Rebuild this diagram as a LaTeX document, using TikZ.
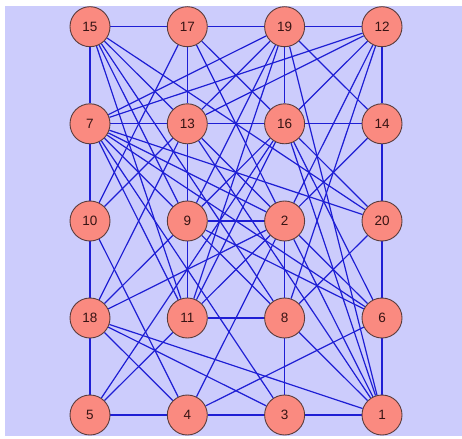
\documentclass[tikz,border=0pt]{standalone}
\usepackage{fontspec}
\setmainfont{Liberation Sans}
\definecolor{bgpanel}{RGB}{204,204,252}
\definecolor{edgeblue}{RGB}{30,30,212}
\definecolor{nodefill}{RGB}{250,138,128}
\definecolor{nodeline}{RGB}{90,60,60}
\definecolor{labeltext}{RGB}{55,20,20}
\pgfdeclarelayer{backdrop}
\pgfdeclarelayer{edges}
\pgfsetlayers{backdrop,edges,main}
\begin{document}
\begin{tikzpicture}[x=1pt,y=-1pt,
  vertex/.style={circle,draw=nodeline,fill=nodefill,line width=0.9pt,
    minimum size=40pt,inner sep=0pt,text=labeltext,font=\fontsize{13.5}{15}\selectfont},
  link/.style={draw=edgeblue,line width=1.2pt}]
\useasboundingbox (0,0) rectangle (462,438);
\begin{pgfonlayer}{backdrop}
\fill[white] (0,0) rectangle (462,438);
\fill[bgpanel] (5,6) rectangle (462,436);
\end{pgfonlayer}
% grid of vertices: columns and rows
\def\cA{90}\def\cB{187.3}\def\cC{284.6}\def\cD{382}
\def\rA{26.7}\def\rB{123.8}\def\rC{221}\def\rD{318}\def\rE{415}
\node[vertex] (v15) at (\cA,\rA) {15};
\node[vertex] (v17) at (\cB,\rA) {17};
\node[vertex] (v19) at (\cC,\rA) {19};
\node[vertex] (v12) at (\cD,\rA) {12};
\node[vertex] (v7)  at (\cA,\rB) {7};
\node[vertex] (v13) at (\cB,\rB) {13};
\node[vertex] (v16) at (\cC,\rB) {16};
\node[vertex] (v14) at (\cD,\rB) {14};
\node[vertex] (v10) at (\cA,\rC) {10};
\node[vertex] (v9)  at (\cB,\rC) {9};
\node[vertex] (v2)  at (\cC,\rC) {2};
\node[vertex] (v20) at (\cD,\rC) {20};
\node[vertex] (v18) at (\cA,\rD) {18};
\node[vertex] (v11) at (\cB,\rD) {11};
\node[vertex] (v8)  at (\cC,\rD) {8};
\node[vertex] (v6)  at (\cD,\rD) {6};
\node[vertex] (v5)  at (\cA,\rE) {5};
\node[vertex] (v4)  at (\cB,\rE) {4};
\node[vertex] (v3)  at (\cC,\rE) {3};
\node[vertex] (v1)  at (\cD,\rE) {1};
% edges, kept beneath the vertices
\begin{pgfonlayer}{edges}
\foreach \a/\b in {15/17,17/19,19/12,15/7,7/10,10/18,18/5,5/4,4/3,3/1,
  12/14,14/20,20/6,6/1,7/13,13/16,16/14,9/2,11/8,17/13,13/9,9/11,19/16,2/8,8/3,
  15/13,15/20,15/9,15/11,15/8,
  17/10,17/16,17/2,
  19/7,19/13,19/9,19/11,19/14,19/1,
  12/7,12/13,12/16,12/2,12/8,
  7/9,7/2,7/20,7/6,7/11,7/3,
  10/13,10/4,
  13/2,13/18,13/1,
  16/9,16/11,16/20,16/6,16/1,
  14/2,9/8,9/6,
  2/18,2/11,2/4,2/6,2/1,
  20/8,18/4,18/3,18/1,18/9,11/5,8/1,6/4,5/16}
  \draw[link] (v\a) -- (v\b);
\end{pgfonlayer}
\end{tikzpicture}
\end{document}
